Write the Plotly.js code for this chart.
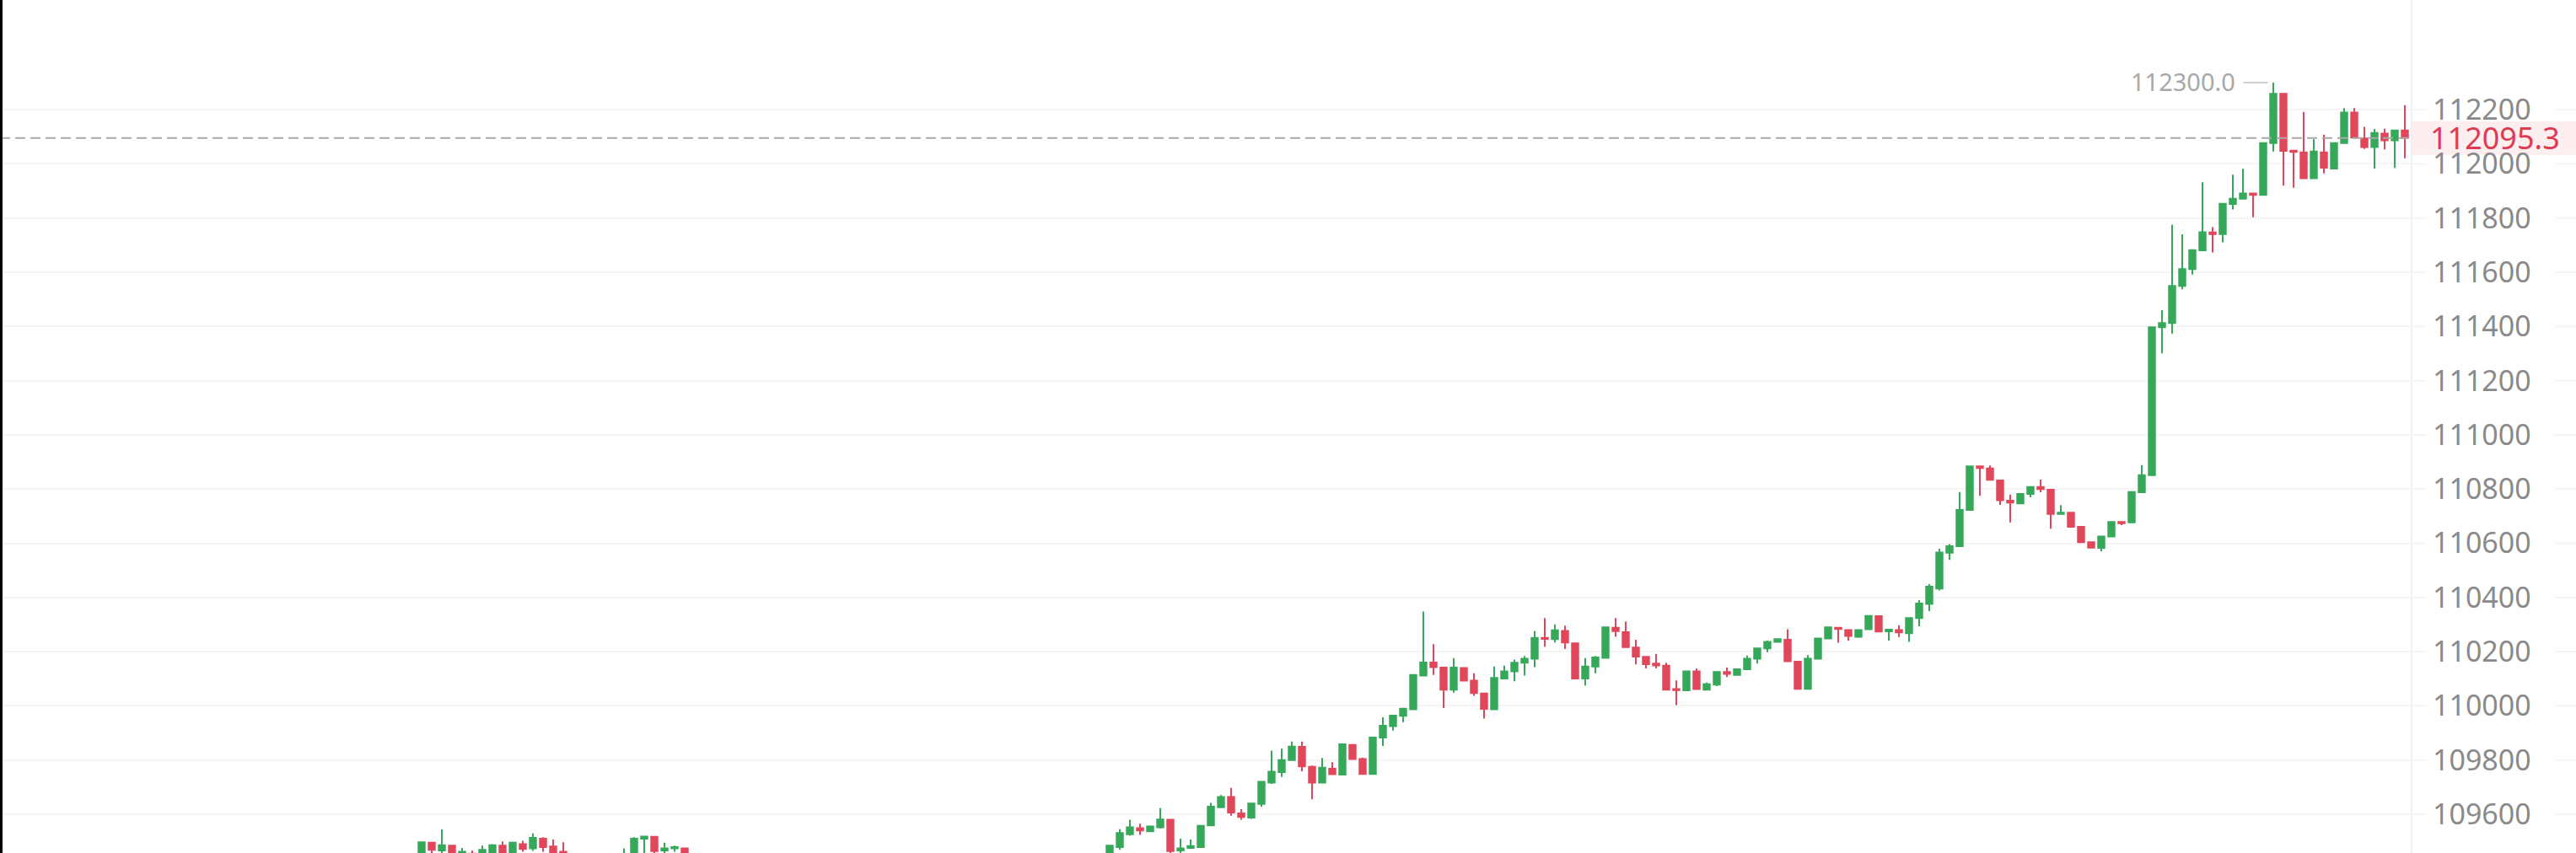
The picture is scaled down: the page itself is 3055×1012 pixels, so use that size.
<!DOCTYPE html>
<html>
<head>
<meta charset="utf-8">
<script src="https://cdn.plot.ly/plotly-3.0.1.min.js"></script>
<style>
  html, body { margin: 0; padding: 0; background: #ffffff; }
  #chart { width: 3055px; height: 1012px; }
</style>
</head>
<body>
<div id="chart"></div>
<script>
// Candle slot index (one slot per bar; slots whose bar lies entirely below the view are omitted)
const candleIdx = [
  0,1,2,3,4,5,6,7,8,9,10,11,12,13,14,
  20,21,22,23,24,25,26,
  68,69,70,71,72,73,74,75,76,77,78,79,80,81,82,83,84,85,86,87,88,89,90,91,92,93,94,95,96,97,98,99,
  100,101,102,103,104,105,106,107,108,109,110,111,112,113,114,115,116,117,118,119,
  120,121,122,123,124,125,126,127,128,129,130,131,132,133,134,135,136,137,138,139,
  140,141,142,143,144,145,146,147,148,149,150,151,152,153,154,155,156,157,158,159,
  160,161,162,163,164,165,166,167,168,169,170,171,172,173,174,175,176,177,178,179,
  180,181,182,183,184,185,186,187,188,189,190,191,192,193,194,195,196
];

const opens = [
  109440,109495,109466,109484,109458,109455,109450,109455,109484,109458,109490,109474,109510,109481,109462,
  109440,109455,109510,109517,109466,109474,109474,
  109440,109479,109526,109549,109537,109552,109580,109466,109476,109479,109559,109626,109664,109603,109588,109638,109717,109756,109800,109849,109775,109717,109768,109746,109856,109804,109749,109883,109925,109963,109987,110112,
  110160,110141,110060,110140,110093,110046,109987,110101,110127,110159,110174,110251,110246,110277,110231,110101,110145,110177,110288,110272,
  110215,110181,110156,110148,110062,110057,110127,110060,110078,110125,110114,110135,110174,110212,110236,110244,110163,110063,110174,110249,
  110288,110280,110255,110283,110331,110275,110280,110268,110324,110376,110433,110565,110589,110723,110884,110876,110832,110757,110747,110782,
  110808,110798,110708,110713,110661,110604,110583,110625,110679,110677,110788,110851,111397,111413,111550,111612,111681,111747,111741,111852,
  111872,111891,111886,112077,112259,112049,112043,111947,112043,111983,112077,112190,112094,112062,112112,112087,112124
];

const highs = [
  109500,109497,109544,109486,109476,109466,109484,109490,109500,109499,109502,109529,109515,109507,109497,
  109474,109515,109520,109520,109495,109484,109476,
  109486,109545,109580,109565,109558,109623,109582,109510,109507,109560,109642,109671,109697,109619,109643,109722,109835,109842,109868,109868,109780,109808,109792,109860,109858,109809,109886,109958,109967,109993,110116,110348,
  110228,110143,110176,110142,110120,110048,110145,110148,110171,110184,110277,110324,110301,110296,110233,110176,110184,110292,110324,110311,
  110244,110183,110192,110159,110094,110129,110138,110086,110127,110141,110137,110186,110215,110241,110247,110283,110165,110187,110251,110293,
  110290,110282,110282,110334,110333,110283,110298,110326,110390,110449,110580,110597,110789,110886,110886,110887,110834,110780,110784,110810,
  110835,110800,110741,110715,110663,110606,110627,110681,110681,110791,110889,111400,111460,111776,111740,111684,111932,111767,111855,111960,
  111982,111893,112080,112300.0,112260,112050,112192,112092,112108,112079,112206,112206,112137,112129,112130,112127,112217
];

const lows = [
  109420,109450,109455,109430,109440,109430,109440,109445,109440,109445,109462,109465,109462,109440,109440,
  109420,109440,109440,109450,109450,109462,109430,
  109430,109469,109521,109524,109534,109547,109455,109455,109474,109477,109557,109624,109595,109580,109583,109628,109712,109738,109798,109759,109655,109715,109745,109744,109802,109746,109747,109852,109909,109940,109985,110110,
  110114,109992,110049,110090,110037,109953,109985,110098,110091,110112,110143,110218,110234,110210,110099,110075,110120,110175,110255,110215,
  110153,110138,110138,110058,110003,110055,110060,110058,110073,110106,110112,110133,110156,110198,110235,110163,110061,110061,110172,110247,
  110233,110241,110251,110281,110272,110241,110254,110236,110294,110350,110426,110539,110587,110721,110775,110832,110742,110677,110745,110770,
  110788,110654,110706,110659,110602,110582,110571,110623,110667,110675,110786,110849,111301,111374,111537,111592,111679,111673,111711,111832,
  111870,111803,111884,112046,111920,111912,111945,111945,111965,111981,112075,112095,112055,111983,112054,111985,112021
];

const closes = [
  109497,109469,109486,109440,109462,109450,109469,109486,109455,109495,109472,109513,109479,109460,109450,
  109450,109510,109518,109464,109474,109479,109440,
  109484,109531,109552,109540,109555,109581,109464,109474,109483,109557,109628,109664,109606,109590,109640,109720,109757,109800,109850,109777,109717,109772,109748,109858,109804,109749,109883,109927,109964,109990,110114,110160,
  110143,110060,110141,110093,110047,109989,110103,110127,110159,110174,110251,110247,110279,110234,110101,110145,110179,110290,110276,110217,
  110182,110154,110149,110060,110058,110127,110062,110080,110125,110118,110135,110174,110212,110236,110246,110165,110063,110174,110249,110290,
  110284,110258,110280,110332,110274,110281,110271,110324,110378,110440,110566,110589,110723,110884,110878,110834,110759,110750,110782,110808,
  110800,110708,110713,110661,110604,110584,110625,110679,110674,110789,110851,111397,111413,111550,111612,111682,111748,111741,111853,111872,
  111891,111886,112077,112259,112048,112044,111947,112046,111986,112077,112190,112097,112062,112114,112087,112124,112095.3
];

const priceTicks = [109600,109800,110000,110200,110400,110600,110800,111000,111200,111400,111600,111800,112000,112200];

const GREEN = '#36a85a';
const RED = '#e1465b';
const FONT = '"Noto Sans", "Open Sans", sans-serif';
const GRID = '#f5f5f5';

const W = 3055, H = 1012;
const plotW = 2860;          // plot area width in px (price scale to the right)
const xRange = [-41.667, 196.667];
const yRange = [109457, 112605];

const lastClose = closes[closes.length - 1];
const hiVal = Math.max(...highs);
const hiIdx = candleIdx[highs.indexOf(hiVal)];

const trace = {
  type: 'candlestick',
  x: candleIdx,
  open: opens, high: highs, low: lows, close: closes,
  increasing: { line: { color: GREEN, width: 2 }, fillcolor: GREEN },
  decreasing: { line: { color: RED, width: 2 }, fillcolor: RED },
  whiskerwidth: 0,
  hoverinfo: 'skip',
  showlegend: false
};

const pxToPaperX = px => px / plotW;

const shapes = [];
// grid segments continuing into the price-scale area on both sides of the labels
priceTicks.forEach(v => {
  shapes.push({ type: 'line', xref: 'paper', yref: 'y', x0: 1, x1: pxToPaperX(2878), y0: v, y1: v,
    line: { color: GRID, width: 2 }, layer: 'below' });
  shapes.push({ type: 'line', xref: 'paper', yref: 'y', x0: pxToPaperX(3030), x1: pxToPaperX(W), y0: v, y1: v,
    line: { color: GRID, width: 2 }, layer: 'below' });
});
// highlight band behind the last price label
shapes.push({ type: 'rect', xref: 'paper', yref: 'y', x0: 1, x1: pxToPaperX(W),
  y0: lastClose - 62, y1: lastClose + 62, fillcolor: '#fdeef0', line: { width: 0 }, layer: 'below' });
// separator between plot and price scale
shapes.push({ type: 'line', xref: 'paper', yref: 'paper', x0: 1, x1: 1, y0: 0, y1: 1,
  line: { color: '#f0f0f0', width: 2 }, layer: 'below' });
// last-price dashed line
shapes.push({ type: 'line', xref: 'paper', yref: 'y', x0: 0, x1: 1, y0: lastClose, y1: lastClose,
  line: { color: '#a9a9a9', width: 2, dash: '12px,6px' }, layer: 'above' });
// short leader line next to the high label
shapes.push({ type: 'line', xref: 'x', yref: 'y', x0: hiIdx - 2.95, x1: hiIdx - 0.55, y0: hiVal, y1: hiVal,
  line: { color: '#cfcfcf', width: 2 }, layer: 'above' });
// black edge strip at far left
shapes.push({ type: 'rect', xref: 'paper', yref: 'paper', x0: 0, x1: pxToPaperX(3), y0: 0, y1: 1,
  fillcolor: '#000000', line: { width: 0 }, layer: 'above' });

const annotations = [
  { xref: 'paper', yref: 'y', x: 1, y: lastClose, xanchor: 'left', yanchor: 'middle', xshift: 20,
    text: lastClose.toFixed(1), showarrow: false, font: { family: FONT, size: 36, color: '#e03a50' } },
  { xref: 'x', yref: 'y', x: hiIdx, y: hiVal, xanchor: 'right', yanchor: 'middle', xshift: -43, yshift: 2,
    text: hiVal.toFixed(1), showarrow: false, font: { family: FONT, size: 29, color: '#a8a8a8' } }
];

const layout = {
  width: W, height: H,
  margin: { l: 0, r: W - plotW, t: 0, b: 0, pad: 0 },
  paper_bgcolor: '#ffffff', plot_bgcolor: '#ffffff',
  showlegend: false,
  boxgap: 0.38, boxgroupgap: 0,
  xaxis: { range: xRange, showgrid: false, zeroline: false, showticklabels: false, ticks: '',
    showline: false, rangeslider: { visible: false }, fixedrange: true },
  yaxis: { side: 'right', range: yRange, tickmode: 'array', tickvals: priceTicks,
    ticktext: priceTicks.map(v => String(v)), showgrid: true, gridcolor: GRID, gridwidth: 2,
    zeroline: false, showline: false, ticks: '', ticklabelstandoff: 24,
    tickfont: { family: FONT, size: 34, color: '#8a8a8a' }, fixedrange: true },
  shapes: shapes,
  annotations: annotations
};

Plotly.newPlot('chart', [trace], layout, { displayModeBar: false, staticPlot: true });
</script>
</body>
</html>
